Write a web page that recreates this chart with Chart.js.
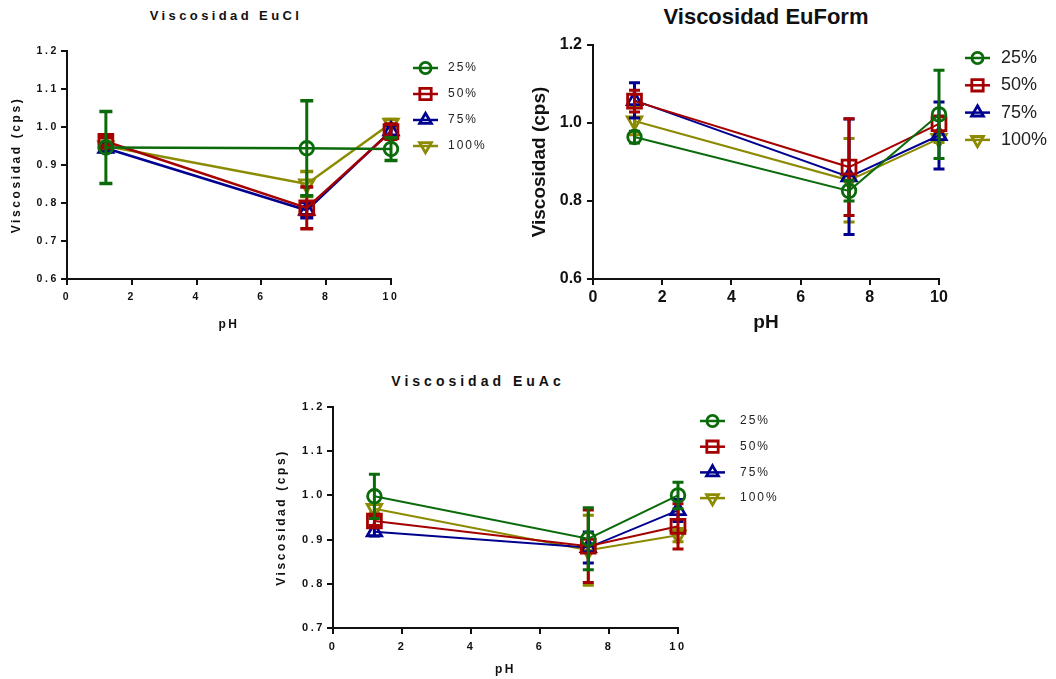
<!DOCTYPE html>
<html>
<head>
<meta charset="utf-8">
<script src="https://cdn.jsdelivr.net/npm/chart.js@4.4.0/dist/chart.umd.min.js"></script>
<style>
  body { margin: 0; background: #fff; width: 1056px; height: 679px; overflow: hidden; position: relative;
         font-family: Arial, "Liberation Sans", sans-serif; }
  canvas { position: absolute; }
  .ttl { position: absolute; font-weight: bold; color: #111; white-space: nowrap; transform: translateX(-50%); }
</style>
</head>
<body>
<div class="ttl" style="left:226px;top:8px;font-size:13px;letter-spacing:3.4px">Viscosidad EuCl</div>
<div class="ttl" style="left:766px;top:4px;font-size:22px">Viscosidad EuForm</div>
<div class="ttl" style="left:478px;top:373px;font-size:14px;letter-spacing:4px">Viscosidad EuAc</div>

<canvas id="cEuCl" width="520" height="340" style="left:0;top:0"></canvas>
<canvas id="cEuForm" width="536" height="340" style="left:520px;top:0"></canvas>
<canvas id="cEuAc" width="540" height="319" style="left:260px;top:360px"></canvas>

<script>
// pH of the measurements
const phValues = [1.2, 7.4, 10];
const seriesNames = ['25%', '50%', '75%', '100%'];

// EuCl: mean viscosity and error
const euclMean25 = [0.946, 0.944, 0.942];
const euclErr25 = [0.095, 0.125, 0.03];
const euclMean50 = [0.962, 0.787, 0.988];
const euclErr50 = [0.01, 0.055, 0.02];
const euclMean75 = [0.944, 0.781, 0.99];
const euclErr75 = [0.01, 0.02, 0.015];
const euclMean100 = [0.95, 0.85, 1.01];
const euclErr100 = [0.01, 0.033, 0.01];

// EuForm
const euformMean25 = [0.964, 0.826, 1.022];
const euformErr25 = [0.015, 0.026, 0.113];
const euformMean50 = [1.056, 0.887, 0.998];
const euformErr50 = [0.028, 0.124, 0.02];
const euformMean75 = [1.058, 0.862, 0.968];
const euformErr75 = [0.045, 0.148, 0.086];
const euformMean100 = [1.005, 0.853, 0.96];
const euformErr100 = [0.035, 0.107, 0.01];

// EuAc
const euacMean25 = [0.998, 0.902, 1.0];
const euacErr25 = [0.05, 0.07, 0.03];
const euacMean50 = [0.942, 0.885, 0.93];
const euacErr50 = [0.01, 0.082, 0.051];
const euacMean75 = [0.918, 0.882, 0.966];
const euacErr75 = [0.01, 0.035, 0.025];
const euacMean100 = [0.97, 0.876, 0.91];
const euacErr100 = [0.01, 0.079, 0.015];

// series look
const colors = ['#0b6b0b', '#a50000', '#000090', '#8c8a00'];
const styles = ['circle', 'rect', 'triangle', 'triangle'];
const rotations = [0, 0, 0, 180];
const radii = [6.8, 9.8, 8.3, 8.3];

const FONT = 'Arial, "Liberation Sans", sans-serif';

// vertical error bars with caps, drawn just before each dataset
const errorBars = {
  id: 'errorBars',
  beforeDatasetDraw(chart, args, opts) {
    const ds = chart.data.datasets[args.index];
    if (!ds.err) return;
    const ctx = chart.ctx, x = chart.scales.x, y = chart.scales.y;
    ctx.save();
    ctx.strokeStyle = ds.borderColor;
    ds.data.forEach((p, i) => {
      const px = x.getPixelForValue(p.x);
      const top = y.getPixelForValue(p.y + ds.err[i]);
      const bot = y.getPixelForValue(p.y - ds.err[i]);
      ctx.lineWidth = opts.width;
      ctx.beginPath();
      ctx.moveTo(px, top); ctx.lineTo(px, bot);
      ctx.stroke();
      ctx.lineWidth = opts.capWidth;
      ctx.beginPath();
      ctx.moveTo(px - opts.cap, top); ctx.lineTo(px + opts.cap, top);
      ctx.moveTo(px - opts.cap, bot); ctx.lineTo(px + opts.cap, bot);
      ctx.stroke();
    });
    ctx.restore();
  }
};

// legend: short line with the marker on it, then the label
const sideLegend = {
  id: 'sideLegend',
  afterDraw(chart, args, opts) {
    const ctx = chart.ctx;
    ctx.save();
    ctx.letterSpacing = opts.spacing;
    ctx.font = opts.font;
    ctx.textBaseline = 'middle';
    chart.data.datasets.forEach((ds, i) => {
      const y = opts.y + i * opts.dy;
      ctx.strokeStyle = ds.borderColor;
      ctx.lineWidth = 2.5;
      ctx.beginPath();
      ctx.moveTo(opts.x, y); ctx.lineTo(opts.x + 25, y);
      ctx.stroke();
      ctx.fillStyle = 'rgba(0,0,0,0)';
      ctx.lineWidth = 2.8;
      Chart.helpers.drawPoint(ctx, {
        pointStyle: ds.pointStyle, rotation: ds.pointRotation,
        radius: ds.pointRadius * 0.82, borderWidth: 2.8
      }, opts.x + 12.5, y);
      ctx.fillStyle = '#222';
      ctx.fillText(ds.label, opts.textX, y);
    });
    ctx.restore();
  }
};

// letter spacing for the spaced-out charts
const spacing = {
  id: 'spacing',
  beforeUpdate(chart, a, o) { chart.ctx.letterSpacing = o.value; },
  beforeDraw(chart, a, o) { chart.ctx.letterSpacing = o.value; }
};

function buildSets(means, errs, lineWidth) {
  return means.map((m, i) => ({
    label: seriesNames[i],
    data: phValues.map((ph, k) => ({ x: ph, y: m[k] })),
    err: errs[i],
    borderColor: colors[i],
    backgroundColor: colors[i],
    borderWidth: lineWidth,
    pointStyle: styles[i],
    pointRotation: rotations[i],
    pointRadius: radii[i],
    pointBorderWidth: 2.8,
    pointBackgroundColor: 'rgba(0,0,0,0)',
    pointBorderColor: colors[i],
    tension: 0,
    clip: false
  }));
}

function makeChart(id, c) {
  const tickFont = { family: FONT, size: c.tickSize, weight: 'bold' };
  const axisTitleFont = { family: FONT, size: c.titleSize, weight: 'bold' };
  const grid = { display: true, drawOnChartArea: false, drawTicks: true, tickLength: 6, color: '#111', lineWidth: 2 };
  return new Chart(document.getElementById(id), {
    type: 'line',
    data: { datasets: buildSets(c.means, c.errs, c.lineWidth) },
    options: {
      responsive: false,
      animation: false,
      layout: { padding: { left: 0, top: c.top, right: c.right, bottom: 0 } },
      plugins: {
        legend: { display: false },
        tooltip: { enabled: false },
        errorBars: c.bars,
        sideLegend: c.legend,
        spacing: { value: c.spacing }
      },
      scales: {
        x: {
          type: 'linear', min: 0, max: 10,
          ticks: { stepSize: 2, font: tickFont, color: '#111', padding: c.xPad },
          grid: grid,
          border: { display: true, color: '#111', width: 2 },
          title: { display: true, text: 'pH', font: { family: FONT, size: c.phSize, weight: 'bold' }, color: '#111',
                   padding: { top: 0, bottom: c.xTitlePad } },
          afterFit: s => { s.height = c.xHeight; }
        },
        y: {
          type: 'linear', min: c.yMin, max: 1.2,
          ticks: { stepSize: c.yStep, font: tickFont, color: '#111', padding: c.yPad,
                   callback: v => v.toFixed(1) },
          grid: grid,
          border: { display: true, color: '#111', width: 2 },
          title: { display: true, text: 'Viscosidad (cps)', font: axisTitleFont, color: '#111',
                   padding: { top: c.yTitlePad, bottom: 0 } },
          afterFit: s => { s.width = c.yWidth; }
        }
      }
    },
    plugins: [errorBars, sideLegend, spacing]
  });
}

makeChart('cEuCl', {
  means: [euclMean25, euclMean50, euclMean75, euclMean100],
  errs: [euclErr25, euclErr50, euclErr75, euclErr100],
  lineWidth: 2.5, top: 51, right: 129, yWidth: 67, xHeight: 61,
  tickSize: 10.5, titleSize: 12, phSize: 12, yStep: 0.1, yMin: 0.6,
  xPad: 6, yPad: 2, xTitlePad: 7.8, yTitlePad: 9.8, spacing: '2.6px',
  bars: { width: 3, capWidth: 3.5, cap: 6.5 },
  legend: { x: 413, y: 68, dy: 26, textX: 448, font: '12px ' + FONT, spacing: '2px' }
});

makeChart('cEuForm', {
  means: [euformMean25, euformMean50, euformMean75, euformMean100],
  errs: [euformErr25, euformErr50, euformErr75, euformErr100],
  lineWidth: 2, top: 45, right: 117, yWidth: 73, xHeight: 61,
  tickSize: 16, titleSize: 19, phSize: 19, yStep: 0.2, yMin: 0.6,
  xPad: 3, yPad: 5, xTitlePad: 5.6, yTitlePad: 8.6, spacing: '0px',
  bars: { width: 3, capWidth: 3, cap: 5.5 },
  legend: { x: 445, y: 58, dy: 27.3, textX: 481, font: '18px ' + FONT, spacing: '0px' }
});

makeChart('cEuAc', {
  means: [euacMean25, euacMean50, euacMean75, euacMean100],
  errs: [euacErr25, euacErr50, euacErr75, euacErr100],
  lineWidth: 2, top: 47, right: 122, yWidth: 73, xHeight: 51,
  tickSize: 11, titleSize: 12, phSize: 12, yStep: 0.1, yMin: 0.7,
  xPad: 6, yPad: 2, xTitlePad: 1.8, yTitlePad: 14.8, spacing: '2.6px',
  bars: { width: 3, capWidth: 3, cap: 5.5 },
  legend: { x: 440, y: 61, dy: 25.7, textX: 480, font: '12px ' + FONT, spacing: '2px' }
});
</script>
</body>
</html>
